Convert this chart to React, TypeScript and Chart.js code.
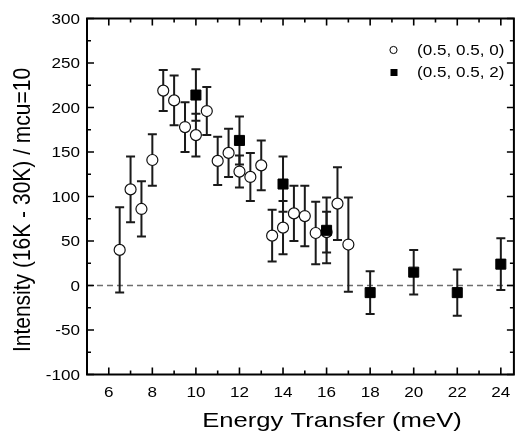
import { useEffect, useRef } from "react";
import { Chart, registerables } from "chart.js";

Chart.register(...registerables);

// ---- data ----
const energyA = [6.5, 7, 7.5, 8, 8.5, 9, 9.5, 10, 10.5, 11, 11.5, 12, 12.5, 13, 13.5, 14, 14.5, 15, 15.5, 16, 16.5, 17];
const intensityA = [40, 108, 86, 141, 219, 208, 178, 169, 196, 140, 149, 128, 122, 135, 56, 65, 81, 78, 59, 60, 92, 46];
const errorA = [48, 37, 31, 29, 23, 28, 28, 24, 27, 27, 27, 18, 27, 28, 29, 30, 31, 34, 35, 23, 41, 53];

const energyB = [10, 12, 14, 16, 18, 20, 22, 24];
const intensityB = [214, 163, 114, 62, -8, 15, -8, 24];
const errorB = [29, 27, 31, 37, 24, 25, 26, 29];

const seriesLabels = ["(0.5, 0.5, 0)", "(0.5, 0.5, 2)"];
const xTickValues = [6, 8, 10, 12, 14, 16, 18, 20, 22, 24];
const yTickValues = [-100, -50, 0, 50, 100, 150, 200, 250, 300];
const xRange = [5, 24.6];
const yRange = [-100, 300];
const baselineValue = 0;
const xTitle = "Energy Transfer (meV)";
const yTitle = "Intensity (16K - 30K) / mcu=10";

const FONT = '"Liberation Sans", Arial, sans-serif';
const STRETCH = 1.22;

function drawText(ctx: CanvasRenderingContext2D, text: string, x: number, y: number, align: CanvasTextAlign, sx: number, size: number, rot = 0) {
  ctx.save();
  ctx.translate(x, y);
  ctx.scale(sx, 1);
  if (rot) ctx.rotate(rot);
  ctx.font = `${size}px ${FONT}`;
  ctx.textAlign = align;
  ctx.textBaseline = "alphabetic";
  ctx.fillStyle = "#000";
  ctx.fillText(text, 0, 0);
  ctx.restore();
}

const decorPlugin = {
  id: "decor",
  beforeDatasetsDraw(chart: any) {
    const { ctx, chartArea: a, scales } = chart;
    const xs = scales.x, ys = scales.y;
    // zero dashed line
    ctx.save();
    ctx.strokeStyle = "#6e6e6e";
    ctx.lineWidth = 1.5;
    ctx.setLineDash([6, 4]);
    const y0 = ys.getPixelForValue(baselineValue);
    ctx.beginPath();
    ctx.moveTo(a.left, y0);
    ctx.lineTo(a.right, y0);
    ctx.stroke();
    ctx.restore();
    // error bars
    const sets = [
      { xs: energyA, ys: intensityA, es: errorA },
      { xs: energyB, ys: intensityB, es: errorB },
    ];
    ctx.save();
    ctx.strokeStyle = "#1a1a1a";
    ctx.lineWidth = 2;
    for (const s of sets) {
      s.xs.forEach((xv, i) => {
        const px = xs.getPixelForValue(xv);
        const pt = ys.getPixelForValue(s.ys[i] + s.es[i]);
        const pb = ys.getPixelForValue(s.ys[i] - s.es[i]);
        ctx.beginPath();
        ctx.moveTo(px, pt);
        ctx.lineTo(px, pb);
        ctx.moveTo(px - 4.5, pt);
        ctx.lineTo(px + 4.5, pt);
        ctx.moveTo(px - 4.5, pb);
        ctx.lineTo(px + 4.5, pb);
        ctx.stroke();
      });
    }
    ctx.restore();
  },
  afterDraw(chart: any) {
    const { ctx, chartArea: a, scales } = chart;
    const xs = scales.x, ys = scales.y;
    ctx.save();
    ctx.strokeStyle = "#000";
    // ticks
    ctx.lineWidth = 1.6;
    const major = 7, minor = 4;
    const xMinor: number[] = [];
    for (let i = 0; i < xTickValues.length - 1; i++) xMinor.push((xTickValues[i] + xTickValues[i + 1]) / 2);
    const yMinor: number[] = [];
    for (let i = 0; i < yTickValues.length - 1; i++) yMinor.push((yTickValues[i] + yTickValues[i + 1]) / 2);
    ctx.beginPath();
    const xt = (v: number, len: number) => {
      const px = xs.getPixelForValue(v);
      ctx.moveTo(px, a.bottom);
      ctx.lineTo(px, a.bottom - len);
      ctx.moveTo(px, a.top);
      ctx.lineTo(px, a.top + len);
    };
    const yt = (v: number, len: number) => {
      const py = ys.getPixelForValue(v);
      ctx.moveTo(a.left, py);
      ctx.lineTo(a.left + len, py);
      ctx.moveTo(a.right, py);
      ctx.lineTo(a.right - len, py);
    };
    xTickValues.forEach((v) => xt(v, major));
    xMinor.forEach((v) => xt(v, minor));
    yTickValues.forEach((v) => yt(v, major));
    yMinor.forEach((v) => yt(v, minor));
    ctx.stroke();
    // frame
    ctx.lineWidth = 2;
    ctx.strokeRect(a.left, a.top, a.right - a.left, a.bottom - a.top);
    ctx.restore();

    // tick labels
    xTickValues.forEach((v) => drawText(ctx, String(v), xs.getPixelForValue(v), 397, "center", STRETCH, 14));
    yTickValues.forEach((v) => drawText(ctx, String(v), 80, ys.getPixelForValue(v) + 5, "right", STRETCH, 14));

    // titles
    drawText(ctx, xTitle, 332, 427, "center", STRETCH, 21);
    drawText(ctx, yTitle, 30, 210, "center", 1.1, 21, -Math.PI / 2);

    // legend
    ctx.save();
    ctx.lineWidth = 1;
    ctx.strokeStyle = "#000";
    ctx.fillStyle = "#fff";
    ctx.beginPath();
    ctx.arc(393.5, 50, 3.6, 0, Math.PI * 2);
    ctx.fill();
    ctx.stroke();
    ctx.fillStyle = "#000";
    ctx.fillRect(390.5, 69, 7, 7);
    ctx.restore();
    drawText(ctx, seriesLabels[0], 417, 54.5, "left", STRETCH, 14);
    drawText(ctx, seriesLabels[1], 417, 77, "left", STRETCH, 14);
  },
};

export default function App() {
  const ref = useRef<HTMLCanvasElement>(null);
  useEffect(() => {
    if (!ref.current) return;
    const chart = new Chart(ref.current, {
      type: "scatter",
      data: {
        datasets: [
          {
            label: seriesLabels[1],
            data: energyB.map((x, i) => ({ x, y: intensityB[i] })),
            pointStyle: "rect",
            pointRadius: 7.1,
            backgroundColor: "#000",
            borderColor: "#000",
            borderWidth: 1,
            order: 0,
          },
          {
            label: seriesLabels[0],
            data: energyA.map((x, i) => ({ x, y: intensityA[i] })),
            pointStyle: "circle",
            pointRadius: 5.5,
            backgroundColor: "#fff",
            borderColor: "#111",
            borderWidth: 1.2,
            order: 1,
          },
        ],
      },
      options: {
        animation: false,
        responsive: true,
        maintainAspectRatio: false,
        devicePixelRatio: 1,
        events: [],
        layout: { padding: { top: 18.5, right: 1, left: 0, bottom: 0 } },
        plugins: { legend: { display: false }, tooltip: { enabled: false } },
        scales: {
          x: {
            type: "linear",
            min: xRange[0],
            max: xRange[1],
            ticks: { display: false },
            grid: { display: false },
            border: { display: false },
            afterFit: (s: any) => {
              s.height = 59.5;
            },
          },
          y: {
            type: "linear",
            min: yRange[0],
            max: yRange[1],
            ticks: { display: false },
            grid: { display: false },
            border: { display: false },
            afterFit: (s: any) => {
              s.width = 87;
            },
          },
        },
      },
      plugins: [decorPlugin],
    } as any);
    return () => chart.destroy();
  }, []);
  return (
    <div style={{ position: "absolute", left: 0, top: 0, width: 522, height: 434, background: "#fff" }}>
      <canvas ref={ref} />
    </div>
  );
}
